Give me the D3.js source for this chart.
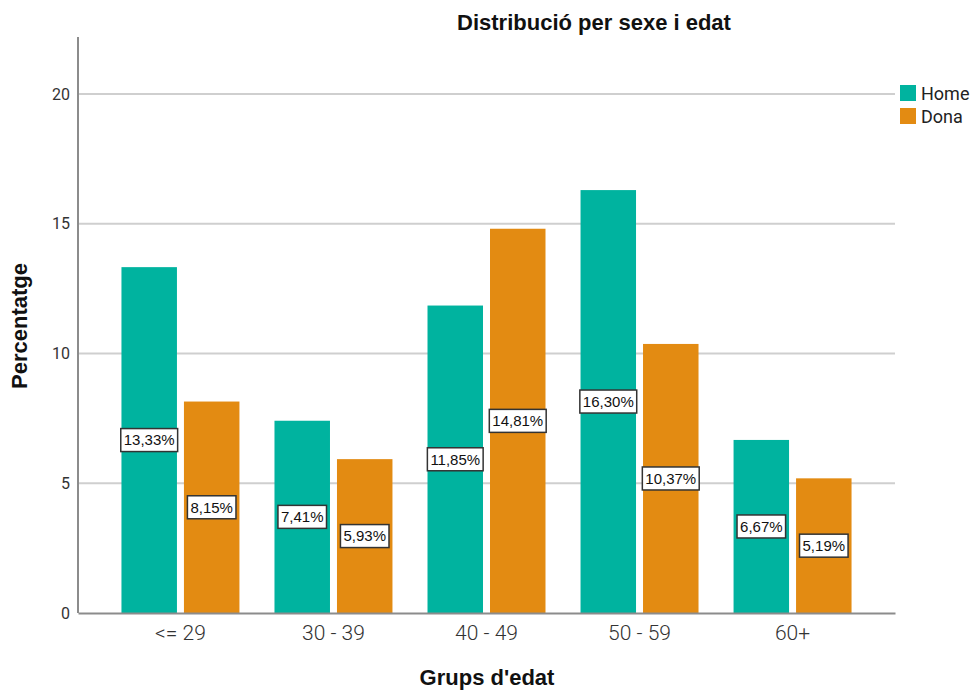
<!DOCTYPE html>
<html><head><meta charset="utf-8">
<script src="https://cdn.jsdelivr.net/npm/d3@7"></script>
<style>body{margin:0;background:#fff}svg{display:block}</style>
</head><body>
<svg id="c" width="971" height="691"></svg>
<script>
const categories = ["<= 29", "30 - 39", "40 - 49", "50 - 59", "60+"];
const series = ["Home", "Dona"];
const homeValues = [13.33, 7.41, 11.85, 16.30, 6.67];
const donaValues = [8.15, 5.93, 14.81, 10.37, 5.19];
const yTicks = [0, 5, 10, 15, 20];
const colors = {Home: "#00B39F", Dona: "#E38B12"};

const data = categories.map((c, i) => ({cat: c, Home: homeValues[i], Dona: donaValues[i]}));
const svg = d3.select("#c");
const L = 78, R = 895, T = 37, B = 613;
const y = d3.scaleLinear().domain([0, 22.2]).range([B, T]);
const x = d3.scaleBand().domain(categories).range([L, R]).paddingInner(0.229).paddingOuter(0.284);
const xs = d3.scaleBand().domain(series).range([0, x.bandwidth()]).paddingInner(0.112);
const font = "'Liberation Sans', Arial, sans-serif";
const light = "Roboto, 'Liberation Sans', sans-serif";

// grid
svg.append("g").selectAll("line").data(yTicks.filter(d => d > 0)).join("line")
  .attr("x1", L).attr("x2", R).attr("y1", d => y(d)).attr("y2", d => y(d))
  .attr("stroke", "#cfcfcf").attr("stroke-width", 2);

// bars
const g = svg.append("g").selectAll("g").data(data).join("g")
  .attr("transform", d => `translate(${x(d.cat)},0)`);
g.selectAll("rect").data(d => series.map(s => ({s, v: d[s]}))).join("rect")
  .attr("x", d => xs(d.s)).attr("width", xs.bandwidth())
  .attr("y", d => y(d.v)).attr("height", d => y(0) - y(d.v))
  .attr("fill", d => colors[d.s]);

// labels
const fmt = v => d3.format(".2f")(v).replace(".", ",") + "%";
const lab = g.selectAll("g.lab").data(d => series.map(s => ({s, v: d[s]}))).join("g")
  .attr("class", "lab")
  .attr("transform", d => `translate(${xs(d.s) + xs.bandwidth() / 2},${y(d.v / 2)})`);
lab.append("text").text(d => fmt(d.v))
  .attr("text-anchor", "middle").attr("dy", "0.36em")
  .attr("font-family", font).attr("font-size", 15).attr("fill", "#111")
  .each(function () {
    const bb = this.getBBox();
    d3.select(this.parentNode).insert("rect", "text")
      .attr("x", bb.x - 3).attr("y", -11.5).attr("width", bb.width + 6).attr("height", 23)
      .attr("fill", "#fff").attr("stroke", "#333").attr("stroke-width", 1.5);
  });

// axes
const ya = svg.append("g").attr("transform", `translate(${L},0)`)
  .call(d3.axisLeft(y).tickValues(yTicks).tickSize(0).tickPadding(8));
ya.select(".domain").remove();
ya.selectAll("text").attr("font-family", light).attr("font-size", 16).attr("fill", "#333");
svg.append("line").attr("x1", L).attr("x2", L).attr("y1", T).attr("y2", B)
  .attr("stroke", "#8c8c8c").attr("stroke-width", 2);
const xa = svg.append("g").attr("transform", `translate(0,${B})`)
  .call(d3.axisBottom(x).tickSize(0).tickPadding(12));
xa.select(".domain").attr("stroke", "#8c8c8c").attr("stroke-width", 2);
xa.selectAll("text").attr("font-family", light).attr("font-size", 21).attr("font-weight", 300).attr("fill", "#333");

// titles
svg.append("text").text("Distribució per sexe i edat").attr("x", 594).attr("y", 30)
  .attr("text-anchor", "middle").attr("font-family", font).attr("font-weight", "bold").attr("font-size", 22).attr("fill", "#111");
svg.append("text").text("Percentatge").attr("transform", "translate(27,326) rotate(-90)")
  .attr("text-anchor", "middle").attr("font-family", font).attr("font-weight", "bold").attr("font-size", 22).attr("fill", "#111");
svg.append("text").text("Grups d'edat").attr("x", 487).attr("y", 685)
  .attr("text-anchor", "middle").attr("font-family", font).attr("font-weight", "bold").attr("font-size", 22).attr("fill", "#111");

// legend
const lg = svg.append("g").selectAll("g").data(series).join("g")
  .attr("transform", (d, i) => `translate(900,${85 + i * 23})`);
lg.append("rect").attr("width", 16).attr("height", 16).attr("fill", d => colors[d]);
lg.append("text").text(d => d).attr("x", 21).attr("y", 15)
  .attr("font-family", light).attr("font-size", 18).attr("fill", "#222");
</script>
</body></html>
